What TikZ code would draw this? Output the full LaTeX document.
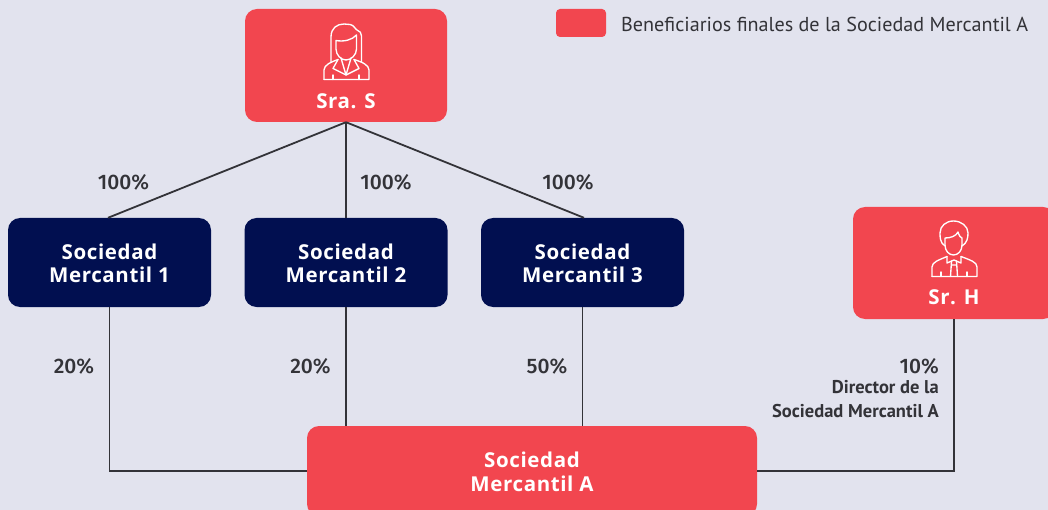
\documentclass[tikz,border=0pt]{standalone}
\usepackage{fontspec}
\setmainfont{Fira Sans}
\newfontfamily\boxfont{Open Sans}[LetterSpace=3]
\newfontfamily\narrowfont{PT Sans}
\newfontfamily\pctfont{Fira Sans Medium}
\definecolor{bg}{HTML}{E2E3EE}
\definecolor{coral}{HTML}{F2464F}
\definecolor{navy}{HTML}{010F50}
\definecolor{ink}{HTML}{333338}
\tikzset{
  x=1pt,y=-1pt,
  redbox/.style={fill=coral,draw=none,rounded corners=12pt,inner sep=0pt,minimum width=202pt},
  navybox/.style={fill=navy,draw=none,rounded corners=12pt,inner sep=0pt,minimum width=203pt,minimum height=89pt},
  boxtext/.style={text=white,inner sep=0pt,align=center,font=\boxfont\bfseries\fontsize{20.5}{23.5}\selectfont},
  conn/.style={draw=ink,line width=1.8pt},
  pct/.style={text=ink,inner sep=0pt,font=\pctfont\fontsize{21}{24}\selectfont},
  icon/.style={draw=white,line width=1.35pt,line join=round,line cap=round},
}
\begin{document}
\begin{tikzpicture}
\useasboundingbox (0,0) rectangle (1048,510);
\clip (0,0) rectangle (1048,510);
\fill[bg] (0,0) rectangle (1048,510);
% boxes
\node[redbox,minimum height=113pt] (sras) at (346,65.5) {};
\node[boxtext,anchor=base] (srasl) at (346,108.5) {Sra. S};
\node[navybox] (s1) at (109.5,262.5) {};
\node[boxtext] (s1t) at (109.5,263.5) {Sociedad\\Mercantil 1};
\node[navybox] (s2) at (346,262.5) {};
\node[boxtext] (s2t) at (346,263.5) {Sociedad\\Mercantil 2};
\node[navybox] (s3) at (582.5,262.5) {};
\node[boxtext] (s3t) at (582.5,263.5) {Sociedad\\Mercantil 3};
\node[redbox,minimum height=112pt] (srh) at (954,263) {};
\node[boxtext,anchor=base] (srhl) at (954,304.5) {Sr. H};
\node[redbox,minimum width=450pt,minimum height=90pt] (soca) at (532,471) {};
\node[boxtext] (socat) at (532,472) {Sociedad\\Mercantil A};
% connectors
\draw[conn] (sras.south) -- ([xshift=-1.5pt]s1.north);
\draw[conn] (sras.south) -- (s2.north);
\draw[conn] (sras.south) -- ([xshift=1.5pt]s3.north);
\draw[conn] (s1.south) |- (soca.west);
\draw[conn] (s2.south) -- (s2.south |- soca.north);
\draw[conn] (s3.south) -- (s3.south |- soca.north);
\draw[conn] (srh.south) |- (soca.east);
% labels
\node[pct] (p1) at (123.5,182) {100\%};
\node[pct] (p2) at (386,182) {100\%};
\node[pct] (p3) at (568,182) {100\%};
\node[pct] (p4) at (74,366) {20\%};
\node[pct] (p5) at (310.5,366) {20\%};
\node[pct] (p6) at (547,366) {50\%};
\node[pct,anchor=east] (p7) at (939,366) {10\%};
\node[anchor=north east,align=right,inner sep=0pt,text=ink,font=\narrowfont\bfseries\fontsize{18.5}{24}\selectfont] (p8) at (939,380) {Director de la\\Sociedad Mercantil A};
% legend
\node[fill=coral,rounded corners=4pt,minimum width=50pt,minimum height=28pt,inner sep=0pt] (leg) at (581,23) {};
\node[anchor=west,inner sep=0pt,text=ink,font=\narrowfont\fontsize{20.15}{24}\selectfont] (legt) at (621,24) {Beneficiarios finales de la Sociedad Mercantil A};
% woman icon
\draw[icon] (331,62) -- (331,37) .. controls (331,28) and (337,24) .. (344,24) -- (350,24.5) .. controls (354,25) and (355,29) .. (357,30) .. controls (360,31) and (361.5,33) .. (361.5,36) -- (361.5,62);
\draw[icon] (336,40.5) .. controls (344,42) and (352,40) .. (356.5,35) -- (356.5,49) .. controls (356.5,55) and (351,60) .. (346,60) .. controls (341,60) and (336,55) .. (336,49) -- cycle;
\draw[icon] (324,79.5) -- (369,79.5) -- (369,70) .. controls (369,65) and (362,62) .. (354,59.5);
\draw[icon] (324,79.5) -- (324,70) .. controls (324,65) and (331,62) .. (338,59.5);
\draw[icon] (338,59.5) -- (333,68.5) -- (346,75) -- (359,68.5) -- (354,59.5);
\draw[icon] (341,58) -- (346,75) -- (351,58);
\draw[icon] (333,75) -- (333,79.5) (359,75) -- (359,79.5);
% man icon
\draw[icon] (945,246) .. controls (940,243) and (940,237) .. (940,233) .. controls (940,226) and (946,221) .. (953.5,221) .. controls (961,221) and (968,226) .. (968,233) .. controls (968,238) and (967,243) .. (962,246);
\draw[icon] (945,238) .. controls (951,238) and (956,236) .. (958,232) .. controls (959,236) and (961,238) .. (962,238) -- (962,245) .. controls (962,251) and (958,255) .. (953.5,255) .. controls (949,255) and (945,251) .. (945,245) -- cycle;
\draw[icon] (932,276.5) -- (977,276.5) -- (977,267) .. controls (977,262) and (970,260) .. (961,256.5);
\draw[icon] (932,276.5) -- (932,267) .. controls (932,262) and (939,260) .. (947,256.5);
\draw[icon] (947,256.5) -- (947,263) -- (954,260) -- (961,263) -- (961,256.5);
\draw[icon] (951.5,261) -- (950.5,276.5) (956.5,261) -- (957.5,276.5) (951.5,265) -- (956.5,265);
\draw[icon] (941,272) -- (941,276.5) (967,272) -- (967,276.5);
\end{tikzpicture}
\end{document}
